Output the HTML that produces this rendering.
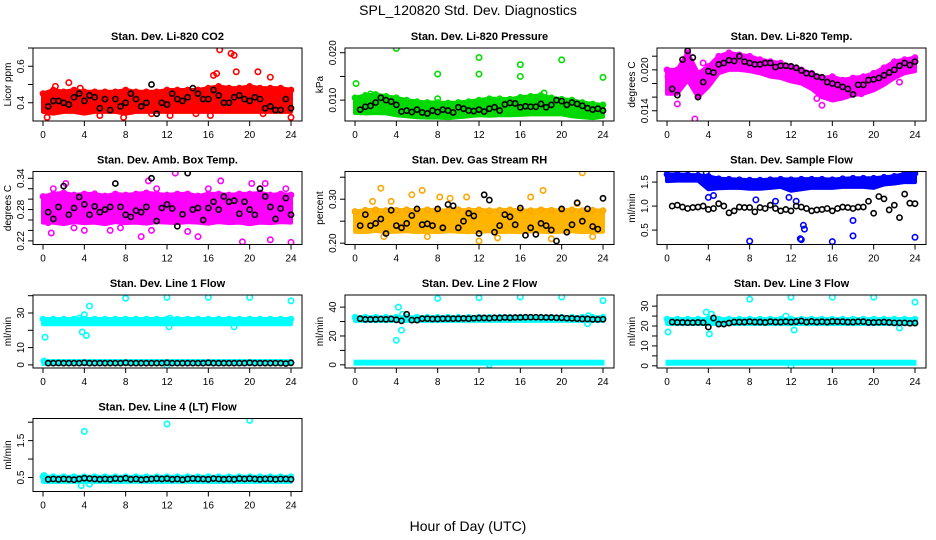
<!DOCTYPE html>
<html><head><meta charset="utf-8">
<style>
body{margin:0;background:#fff;}
svg{display:block;font-family:"Liberation Sans",sans-serif;}
</style></head>
<body>
<svg id="chart" width="936" height="540" viewBox="0 0 936 540">
<rect width="936" height="540" fill="#fff"/>
<text x="468" y="15" text-anchor="middle" font-size="14">SPL_120820  Std. Dev. Diagnostics</text>
<text x="468" y="531" text-anchor="middle" font-size="14">Hour of Day (UTC)</text>
</svg>
<script>
// ---------- data ----------
const hours = [0,1,2,3,4,5,6,7,8,9,10,11,12,13,14,15,16,17,18,19,20,21,22,23,24];
const xTicks = [0,4,8,12,16,20,24];
const blackTimes = [];
for (let k = 0; k < 48; k++) blackTimes.push(0.5 * k + 0.5);

const titles = ["Stan. Dev. Li-820 CO2","Stan. Dev. Li-820 Pressure","Stan. Dev. Li-820 Temp.","Stan. Dev. Amb. Box Temp.","Stan. Dev. Gas Stream RH","Stan. Dev. Sample Flow","Stan. Dev. Line 1 Flow","Stan. Dev. Line 2 Flow","Stan. Dev. Line 3 Flow","Stan. Dev. Line 4 (LT) Flow"];
const yTitles = ["Licor ppm","kPa","degrees C","degrees C","percent","ml/min","ml/min","ml/min","ml/min","ml/min"];
const colors = ["#ff0000","#00dd00","#ff00ff","#ff00ff","#ffa500","#0000ff","#00ffff","#00ffff","#00ffff","#00ffff"];
const bandColors = ["#ff0000","#00d800","#ff00ff","#ff00ff","#ffb400","#0000ff","#00ffff","#00ffff","#00ffff","#00ffff"];
const yMin = [0.30,0.0056,0.0125,0.213,0.197,0.20,-1.8,-2.2,-1.1,0.12];
const yMax = [0.70,0.021,0.0232,0.353,0.363,1.72,40.4,48.4,35.6,2.10];
const yTickVals = [[0.4,0.5,0.6,0.7],[0.010,0.015,0.020],[0.014,0.016,0.018,0.020,0.022],[0.22,0.24,0.26,0.28,0.30,0.32,0.34],[0.20,0.25,0.30,0.35],[0.5,1.0,1.5],[0,10,20,30,40],[0,10,20,30,40],[0,5,10,15,20,25,30],[0.5,1.0,1.5,2.0]];
const yTickLabels = [["0.4","","0.6",""],["0.010","","0.020"],["0.014","","","0.020",""],["0.22","","","0.28","","","0.34"],["0.20","","0.30",""],["0.5","1.0","1.5"],["0","10","","30",""],["0","","20","","40"],["0","","10","","20","","30"],["0.5","","1.5",""]];

const bandLow = [
 [0.35,0.34,0.35,0.35,0.34,0.35,0.35,0.35,0.34,0.35,0.35,0.35,0.35,0.35,0.35,0.35,0.35,0.35,0.35,0.35,0.35,0.35,0.35,0.35,0.35],
 [0.0073,0.0072,0.0073,0.0072,0.0068,0.0066,0.0064,0.0063,0.0063,0.0062,0.0064,0.0066,0.0068,0.0067,0.0068,0.0068,0.0069,0.0070,0.0070,0.0070,0.0070,0.0066,0.0064,0.0062,0.0065],
 [0.0165,0.0165,0.0185,0.0160,0.0175,0.0195,0.0200,0.0200,0.0198,0.0195,0.0190,0.0188,0.0183,0.0180,0.0172,0.0160,0.0155,0.0158,0.0163,0.0165,0.0170,0.0178,0.0188,0.0195,0.0198],
 [0.255,0.255,0.252,0.256,0.254,0.255,0.252,0.256,0.254,0.255,0.253,0.256,0.255,0.254,0.256,0.255,0.253,0.256,0.254,0.255,0.252,0.255,0.254,0.256,0.255],
 [0.226,0.225,0.228,0.225,0.226,0.227,0.225,0.226,0.225,0.227,0.226,0.225,0.226,0.227,0.225,0.226,0.225,0.227,0.226,0.225,0.226,0.227,0.225,0.226,0.226],
 [1.52,1.53,1.53,1.53,1.35,1.37,1.38,1.38,1.36,1.36,1.38,1.40,1.32,1.35,1.38,1.38,1.38,1.40,1.40,1.40,1.38,1.45,1.47,1.50,1.50],
 [23.5,23.5,23.5,23.5,23.5,23.5,23.5,23.5,23.5,23.5,23.5,23.5,23.5,23.5,23.5,23.5,23.5,23.5,23.5,23.5,23.5,23.5,23.5,23.5,23.5],
 [30.5,30.5,30.5,30.5,30.5,30.5,30.5,30.5,30.5,30.5,30.5,30.5,30.5,30.5,30.5,30.5,30.5,30.5,30.5,30.5,30.5,30.5,30.5,30.5,30.5],
 [21,21,21,21,21,21,21,21,21,21,21,21,21,21,21,21,21,21,21,21,21,21,21,21,21],
 [0.38,0.38,0.38,0.38,0.38,0.38,0.38,0.38,0.38,0.38,0.38,0.38,0.38,0.38,0.38,0.38,0.38,0.38,0.38,0.38,0.38,0.38,0.38,0.38,0.38]
];
const bandHigh = [
 [0.45,0.47,0.46,0.47,0.46,0.46,0.46,0.46,0.47,0.46,0.46,0.46,0.47,0.47,0.47,0.47,0.48,0.49,0.48,0.48,0.49,0.48,0.48,0.48,0.47],
 [0.0105,0.0110,0.0112,0.0108,0.0105,0.0100,0.0097,0.0095,0.0095,0.0094,0.0095,0.0097,0.0100,0.0103,0.0103,0.0102,0.0106,0.0108,0.0110,0.0105,0.0102,0.0100,0.0095,0.0092,0.0090],
 [0.0200,0.0200,0.0225,0.0195,0.0205,0.0220,0.0225,0.0222,0.0220,0.0215,0.0212,0.0210,0.0205,0.0200,0.0195,0.0188,0.0190,0.0185,0.0188,0.0190,0.0195,0.0203,0.0212,0.0215,0.0218],
 [0.305,0.31,0.312,0.308,0.31,0.31,0.306,0.31,0.308,0.31,0.312,0.31,0.308,0.31,0.31,0.306,0.31,0.31,0.308,0.31,0.31,0.312,0.308,0.31,0.308],
 [0.272,0.275,0.276,0.274,0.275,0.276,0.274,0.276,0.275,0.274,0.276,0.275,0.276,0.274,0.275,0.276,0.275,0.274,0.276,0.275,0.275,0.276,0.274,0.275,0.274],
 [1.66,1.66,1.65,1.64,1.62,1.57,1.56,1.55,1.54,1.54,1.55,1.56,1.55,1.56,1.56,1.56,1.55,1.57,1.58,1.58,1.58,1.60,1.62,1.67,1.68],
 [26.5,26.5,26.5,26.5,26.5,26.5,26.5,26.5,26.5,26.5,26.5,26.5,26.5,26.5,26.5,26.5,26.5,26.5,26.5,26.5,26.5,26.5,26.5,26.5,26.5],
 [33,33,33,33,33,33,33,33,33,33,33,33,33,33,33,33,33,33,33,33,33,33,33,33,33],
 [23.5,23.5,23.5,23.5,23.5,23.5,23.5,23.5,23.5,23.5,23.5,23.5,23.5,23.5,23.5,23.5,23.5,23.5,23.5,23.5,23.5,23.5,23.5,23.5,23.5],
 [0.52,0.52,0.52,0.52,0.52,0.52,0.52,0.52,0.52,0.52,0.52,0.52,0.52,0.52,0.52,0.52,0.52,0.52,0.52,0.52,0.52,0.52,0.52,0.52,0.52]
];
const lowBandLow = [null,null,null,null,null,null,0.3,0.5,0.8,null];
const lowBandHigh = [null,null,null,null,null,null,2.5,2.5,2.3,null];

const outliers = [
 [[17.1,0.69],[18.2,0.67],[18.5,0.66],[18.7,0.57],[20.8,0.57],[16.5,0.55],[16.8,0.56],[22,0.54],[1.2,0.49],[2.5,0.51],[3.6,0.48],[0.4,0.32],[7.8,0.32],[24,0.32],[12.3,0.33],[5.5,0.33],[16.2,0.33],[21.3,0.34],[10.5,0.34],[14.8,0.34]],
 [[0.1,0.0135],[4,0.0209],[8,0.0155],[12,0.019],[12,0.0155],[16,0.0175],[16,0.0150],[20,0.0185],[24,0.0148],[8,0.0103],[1.5,0.0113],[18.3,0.0115]],
 [[1,0.0150],[2.7,0.0128],[0.1,0.0190],[2,0.0225],[1.3,0.0180],[14.5,0.0158],[15,0.0148],[22.5,0.0182],[18.8,0.0165],[3.5,0.0210],[0.4,0.0175],[3,0.0170]],
 [[0.5,0.255],[1,0.32],[0.8,0.235],[2.2,0.33],[3,0.245],[4,0.24],[5,0.31],[6.5,0.24],[7.5,0.245],[9.5,0.228],[10.2,0.335],[10.5,0.24],[12.8,0.35],[14,0.238],[15,0.228],[17.2,0.335],[19.3,0.218],[20.2,0.33],[21.5,0.33],[22,0.222],[23.5,0.32],[24,0.217],[16,0.32],[11,0.32]],
 [[2.5,0.325],[1.7,0.295],[5.5,0.31],[6.5,0.32],[12,0.205],[18.2,0.32],[22,0.36],[21.5,0.29],[3.5,0.295],[10.8,0.305],[17,0.305],[2.8,0.215],[7,0.215],[13.8,0.212],[19,0.21],[23,0.215],[8.2,0.305],[9.2,0.302]],
 [[8,0.27],[13,0.3],[12.9,0.32],[13.2,0.6],[13.3,0.52],[16,0.26],[18,0.7],[18,0.38],[24,0.35],[4,1.18],[4.5,1.22],[11.8,1.18],[12.5,1.1],[8.6,1.13],[10.5,1.1],[3.8,1.7]],
 [[0.2,16],[0.1,2.2],[3.5,27],[4,29],[4.5,34],[4.2,17],[3.8,19],[8,38.5],[12,39],[16,39],[20,39],[24,37],[12.2,22],[12.3,27],[18.5,22],[12,-0.5]],
 [[4,17],[4.2,40],[4.5,24],[4.6,35],[8,46],[12,46.5],[16,47],[20,47],[24,44.5],[22.5,28.5],[22.6,34],[13,0]],
 [[0.1,17],[3.8,27],[4.1,16],[4.3,26],[8,33.5],[12,34.5],[16,34.5],[20,34.5],[24,32],[12.3,18],[22.5,19],[12,-0.3],[11.5,25]],
 [[4,1.75],[12,1.95],[20,2.05],[3.7,0.28],[4.5,0.32],[0.1,0.55]]
];

const blackVals = [
 [0.38,0.41,0.41,0.40,0.39,0.43,0.45,0.41,0.44,0.43,0.37,0.42,0.36,0.42,0.38,0.40,0.45,0.42,0.38,0.40,0.50,0.34,0.40,0.39,0.45,0.42,0.41,0.43,0.48,0.45,0.42,0.42,0.47,0.44,0.40,0.40,0.43,0.44,0.42,0.41,0.43,0.42,0.37,0.38,0.36,0.36,0.42,0.37],
 [0.0080,0.0086,0.0088,0.0095,0.0105,0.0100,0.0097,0.0090,0.0076,0.0078,0.0075,0.0080,0.0074,0.0072,0.0078,0.0075,0.0080,0.0078,0.0074,0.0085,0.0082,0.0078,0.0077,0.0080,0.0076,0.0082,0.0085,0.0078,0.0091,0.0094,0.0093,0.0085,0.0087,0.0086,0.0086,0.0092,0.0085,0.0090,0.0100,0.0098,0.0090,0.0095,0.0092,0.0088,0.0083,0.0080,0.0082,0.0078],
 [0.0172,0.0163,0.0215,0.0228,0.0218,0.0160,0.0182,0.0198,0.0196,0.0208,0.0210,0.0214,0.0213,0.0220,0.0212,0.0210,0.0208,0.0208,0.0210,0.0210,0.0204,0.0206,0.0206,0.0205,0.0203,0.0199,0.0195,0.0194,0.0190,0.0189,0.0182,0.0180,0.0178,0.0175,0.0172,0.0164,0.0178,0.0178,0.0185,0.0186,0.0188,0.0192,0.0196,0.0200,0.0206,0.0210,0.0207,0.0212],
 [0.275,0.262,0.285,0.325,0.27,0.283,0.304,0.29,0.27,0.286,0.275,0.28,0.285,0.33,0.285,0.27,0.266,0.278,0.275,0.285,0.34,0.258,0.283,0.29,0.282,0.248,0.271,0.35,0.28,0.283,0.26,0.283,0.295,0.28,0.305,0.295,0.297,0.272,0.295,0.28,0.27,0.32,0.305,0.285,0.262,0.282,0.302,0.27],
 [0.24,0.265,0.24,0.245,0.255,0.222,0.275,0.24,0.235,0.245,0.263,0.278,0.242,0.244,0.24,0.278,0.235,0.288,0.285,0.235,0.25,0.268,0.262,0.222,0.31,0.298,0.225,0.24,0.265,0.26,0.242,0.28,0.218,0.235,0.22,0.245,0.24,0.23,0.205,0.278,0.225,0.242,0.292,0.25,0.278,0.238,0.232,0.302],
 [1.0,1.02,0.98,0.95,0.97,0.98,1.0,0.93,0.95,1.05,1.0,0.86,0.9,0.98,0.97,0.97,0.88,0.97,0.95,1.02,0.95,0.9,0.93,0.9,1.0,0.98,0.95,0.9,0.92,0.93,0.95,0.9,0.95,0.98,0.97,0.95,0.98,0.98,1.1,0.85,1.2,1.15,0.92,1.02,0.76,1.25,1.06,1.05],
 [1.0,1.0,1.1,1.0,1.0,1.0,1.0,1.2,1.0,1.0,1.0,1.0,1.0,1.0,1.0,1.2,1.0,1.0,1.0,1.0,1.0,1.0,1.0,1.2,1.0,1.0,1.0,1.0,1.0,1.0,1.0,1.2,1.0,1.0,1.0,1.0,1.0,1.0,1.0,1.2,1.0,1.0,1.0,1.0,1.0,1.0,0.8,1.2],
 [32,31.5,31.5,31.5,31.7,31.5,31.8,31.2,30.5,35,31,31,32,32,31.8,31.8,32,32,32,32,32.2,32,32.3,32.4,32.5,32.3,32.6,32.5,32.8,32.6,32.8,32.8,33,33,33,32.9,32.8,32.8,32.6,32.6,32.3,32.2,32,31.8,31.8,31.5,31.5,31.6],
 [22,21.8,21.8,21.7,21.7,21.8,21.7,19.5,24,21,21,21.5,22,22,22,22.2,22,22,21.8,22.2,22,22,22.2,22,22.2,22.5,22,22.3,22,22.2,22,22.3,22.2,22.2,22,22,22.2,22.2,21.8,21.8,21.9,22,21.8,21.6,21.6,21.6,21.4,21.5],
 [0.45,0.46,0.45,0.46,0.45,0.44,0.46,0.48,0.47,0.46,0.45,0.46,0.45,0.47,0.46,0.48,0.45,0.46,0.44,0.45,0.46,0.47,0.46,0.47,0.45,0.46,0.44,0.46,0.47,0.46,0.46,0.45,0.47,0.46,0.45,0.46,0.45,0.47,0.46,0.47,0.46,0.45,0.46,0.46,0.45,0.46,0.46,0.45]
];

// ---------- drawing ----------
const NS = "http://www.w3.org/2000/svg";
const svg = document.getElementById("chart");
function mk(tag, attrs, parent) {
  const e = document.createElementNS(NS, tag);
  for (const k in attrs) e.setAttribute(k, attrs[k]);
  (parent || svg).appendChild(e);
  return e;
}
const BOXW = 269, BOXH = 73;

for (let p = 0; p < 10; p++) {
  const col = p % 3, row = Math.floor(p / 3);
  const bx = 33 + 312 * col, by = 48 + 123.5 * row;
  const xs = h => bx + 10 + (h / 24) * 248;
  const ys = v => by + BOXH - (v - yMin[p]) / (yMax[p] - yMin[p]) * BOXH;

  const g = mk("g", {});
  
  

  const clipId = "clip" + p;
  const cp = mk("clipPath", {id: clipId}, g);
  mk("rect", {x: bx, y: by, width: BOXW, height: BOXH}, cp);
  const plot = mk("g", {"clip-path": "url(#" + clipId + ")"}, g);
  
  

  let pts = [];
  hours.forEach((h, i) => pts.push(xs(h) + "," + ys(bandHigh[p][i])));
  for (let i = hours.length - 1; i >= 0; i--) pts.push(xs(hours[i]) + "," + ys(bandLow[p][i]));
  const band = mk("polygon", {points: pts.join(" "), fill: bandColors[p], stroke: bandColors[p], "stroke-width": 4, "stroke-linejoin": "round"}, plot);
  
  

  if (lowBandLow[p] !== null) {
    const y1 = ys(lowBandHigh[p]), y2 = ys(lowBandLow[p]);
    const lb = mk("rect", {x: xs(0), y: y1, width: xs(24) - xs(0), height: y2 - y1, fill: colors[p], stroke: colors[p], "stroke-width": 3}, plot);
    
    
  }
  hours.forEach((h, i) => {
    const c1 = mk("circle", {cx: xs(h), cy: ys(bandHigh[p][i]), r: 2.6, fill: "none", stroke: colors[p], "stroke-width": 1.5}, plot);
    
    
  });
  outliers[p].forEach(o => {
    const c = mk("circle", {cx: xs(o[0]), cy: ys(o[1]), r: 2.7, fill: "none", stroke: colors[p], "stroke-width": 1.6}, plot);
    
    
  });
  blackVals[p].forEach((v, i) => {
    const c = mk("circle", {cx: xs(blackTimes[i]), cy: ys(v), r: 2.6, fill: "none", stroke: "#000", "stroke-width": 1.6}, plot);
    
    
  });

  const box = mk("rect", {x: bx, y: by, width: BOXW, height: BOXH, fill: "none", stroke: "#000", "stroke-width": 1}, g);
  
  

  const yb = by + BOXH;
  xTicks.forEach(t => {
    const x = xs(t);
    mk("line", {x1: x, y1: yb, x2: x, y2: yb + 5, stroke: "#000"}, g);
    const tl = mk("text", {x: x, y: yb + 17, "text-anchor": "middle", "font-size": 10}, g);
    tl.textContent = t;
    
    
  });

  yTickVals[p].forEach((v, i) => {
    const y = ys(v);
    mk("line", {x1: bx - 5, y1: y, x2: bx, y2: y, stroke: "#000"}, g);
    if (yTickLabels[p][i]) {
      const tx = bx - 9;
      const tl = mk("text", {x: tx, y: y, "text-anchor": "middle", "font-size": 10, transform: "rotate(-90 " + tx + " " + y + ")"}, g);
      tl.textContent = yTickLabels[p][i];
      
      
    }
  });
  const tyx = bx - 22, tyy = by + BOXH / 2;
  const yt = mk("text", {x: tyx, y: tyy, "text-anchor": "middle", "font-size": 10, transform: "rotate(-90 " + tyx + " " + tyy + ")"}, g);
  yt.textContent = yTitles[p];
  
  

  const tt = mk("text", {x: bx + BOXW / 2, y: by - 8, "text-anchor": "middle", "font-size": 11, "font-weight": "bold"}, g);
  tt.textContent = titles[p];
  
  
}
</script>
</body></html>
